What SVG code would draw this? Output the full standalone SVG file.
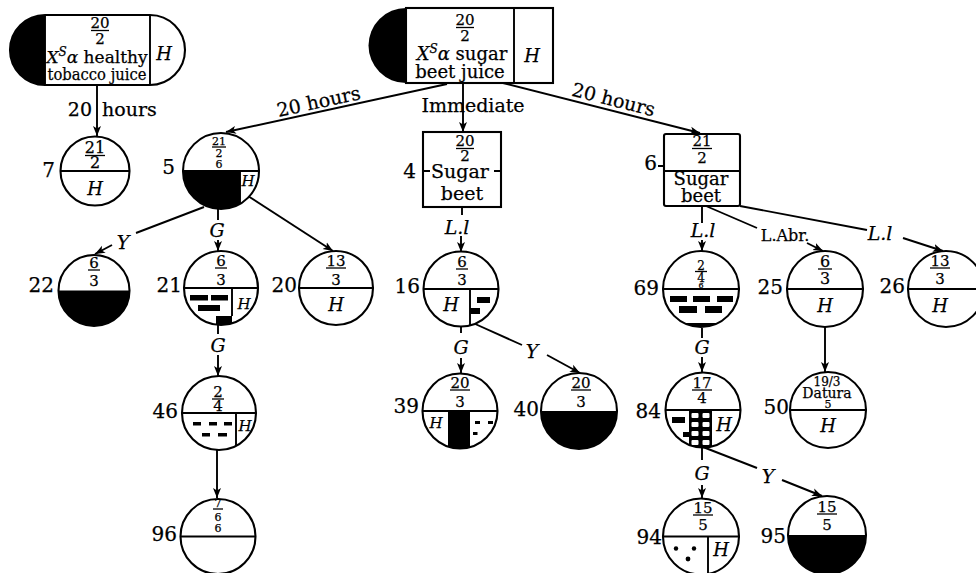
<svg xmlns="http://www.w3.org/2000/svg" width="976" height="573" viewBox="0 0 976 573">
<style>
  text{font-family:'DejaVu Serif','Liberation Serif',serif;fill:#000;stroke:#000;stroke-width:0.25}
  .m{text-anchor:middle}
  .i{font-style:italic}
  .f{font-size:15px}
  .sm{font-size:11px}
  .num{font-size:20px;text-anchor:end}
  .h{font-size:18px;font-style:italic;text-anchor:middle}
  .hs{font-size:15px;font-style:italic;text-anchor:middle}
  .el{font-size:19px}
  .o{fill:#fff;stroke:#000;stroke-width:2.1}
  .ln{fill:none;stroke:#000;stroke-width:1.9}
  .bar{stroke:#000;stroke-width:1.3}
  .k{fill:#000}
  .con{fill:none;stroke:#000;stroke-width:1.9}
  .arr{marker-end:url(#ah)}
</style>
<defs>
  <marker id="ah" markerUnits="userSpaceOnUse" markerWidth="11" markerHeight="9" refX="10" refY="4.5" orient="auto">
    <path d="M0,0.5 L10,4.5 L0,8.5 L2.5,4.5 Z" fill="#000"/>
  </marker>
  <clipPath id="c21"><circle cx="221" cy="288" r="37"/></clipPath>
  <clipPath id="c39"><circle cx="460" cy="411" r="37.5"/></clipPath>
  <clipPath id="c69"><circle cx="701" cy="289" r="38"/></clipPath>
  <clipPath id="c84"><circle cx="703" cy="410" r="37.5"/></clipPath>
  <clipPath id="c94"><circle cx="701" cy="536.5" r="38"/></clipPath>
</defs>

<!-- connectors -->
<g id="connectors">
  <path class="con arr" d="M97,85 V136"/>
  <text class="el"><tspan x="92" y="116" text-anchor="end">20</tspan><tspan x="102" y="116">hours</tspan></text>

  <path class="con arr" d="M447,84 L226,132"/>
  <text class="el m" transform="translate(320,108) rotate(-12.25)">20 hours</text>
  <path class="con arr" d="M463,83 V132"/>
  <text class="el m" x="473" y="112">Immediate</text>
  <path class="con arr" d="M503,83 L700,133"/>
  <text class="el m" transform="translate(612,106) rotate(14.2)">20 hours</text>

  <path class="con" d="M204,207 L136,233"/>
  <text class="el m i" x="123" y="249">Y</text>
  <path class="con arr" d="M112,245 L95,254"/>

  <path class="con" d="M218,209 V220"/>
  <text class="el m i" x="217" y="237">G</text>
  <path class="con arr" d="M218,240 V251"/>

  <path class="con arr" d="M248,196 L333,251"/>

  <path class="con" d="M218,325 V334"/>
  <text class="el m i" x="218" y="352">G</text>
  <path class="con arr" d="M218,355 V376"/>

  <path class="con arr" d="M217,450 V498"/>

  <path class="con" d="M462,207 V215"/>
  <text class="el m i" x="457" y="234">L.l</text>
  <path class="con arr" d="M461,236 V252"/>

  <path class="con" d="M461,326 V333"/>
  <text class="el m i" x="461" y="354">G</text>
  <path class="con arr" d="M461,358 V373"/>

  <path class="con" d="M473,323 L522,345"/>
  <text class="el m i" x="532" y="358">Y</text>
  <path class="con arr" d="M547,355 L580,373"/>

  <path class="con" d="M702,206 V223"/>
  <text class="el m i" x="703" y="237">L.l</text>
  <path class="con arr" d="M702,240 V251"/>

  <path class="con" d="M706,206 L757,228"/>
  <text class="m" font-size="16" x="785" y="241">L.Abr.</text>
  <path class="con arr" d="M807,243 L823,251"/>

  <path class="con" d="M740,206 L867,230"/>
  <text class="el m i" x="880" y="240">L.l</text>
  <path class="con arr" d="M903,238 L943,251"/>

  <path class="con arr" d="M825,327 V372"/>

  <path class="con" d="M702,328 V338"/>
  <text class="el m i" x="702" y="354">G</text>
  <path class="con arr" d="M702,357 V372"/>

  <path class="con" d="M702,447 V460"/>
  <text class="el m i" x="702" y="480">G</text>
  <path class="con arr" d="M702,485 V498"/>

  <path class="con" d="M703,447 L757,468"/>
  <text class="el m i" x="768" y="483">Y</text>
  <path class="con arr" d="M782,480 L822,496"/>
</g>

<!-- source plants -->
<g id="juice-tobacco">
  <path class="o" d="M45,15 H150 A35,35 0 0 1 150,85 H45 A35,35 0 0 1 45,15 Z"/>
  <path class="k" d="M45,15 A35,35 0 0 0 45,85 Z"/>
  <path class="ln" d="M45,15 V85 M150,15 V85"/>
  <line class="bar" x1="91" y1="30.5" x2="109" y2="30.5"/>
  <text class="m f"><tspan x="100" y="28">20</tspan><tspan x="100" y="44">2</tspan></text>
  <text class="m" font-size="17"><tspan x="97" y="63"><tspan class="i">X</tspan><tspan class="i" font-size="12" dy="-7">S</tspan><tspan class="i" dy="7">α</tspan> healthy</tspan><tspan x="97" y="80" textLength="99" lengthAdjust="spacingAndGlyphs">tobacco juice</tspan></text>
  <text class="h" x="164" y="60">H</text>
</g>

<g id="juice-beet">
  <path class="k" d="M406,8 A37.5,37.5 0 0 0 406,83 Z"/>
  <rect class="o" x="406" y="8" width="147" height="75"/>
  <line class="ln" x1="514" y1="8" x2="514" y2="83"/>
  <line class="bar" x1="456" y1="27.5" x2="474" y2="27.5"/>
  <text class="m f"><tspan x="465" y="25">20</tspan><tspan x="465" y="41">2</tspan></text>
  <text class="m" font-size="18"><tspan x="462" y="60"><tspan class="i">X</tspan><tspan class="i" font-size="12" dy="-7">S</tspan><tspan class="i" dy="7">α</tspan> sugar</tspan><tspan x="460" y="78">beet juice</tspan></text>
  <text class="h" x="532" y="62">H</text>
</g>

<g id="n4">
  <rect class="o" x="423" y="132" width="78" height="75"/>
  <path class="ln" d="M423,171 h7 M494,171 h7"/>
  <line class="bar" x1="456" y1="148.5" x2="474" y2="148.5"/>
  <text class="m f"><tspan x="465" y="146">20</tspan><tspan x="465" y="161">2</tspan></text>
  <text class="m" font-size="19"><tspan x="460" y="178">Sugar</tspan><tspan x="462" y="200">beet</tspan></text>
  <text class="num" x="416" y="178">4</text>
</g>

<g id="n6">
  <rect class="o" x="664" y="134" width="76" height="72" rx="2"/>
  <path class="ln" d="M664,171 H740 M658,166 h6"/>
  <line class="bar" x1="692" y1="148.5" x2="712" y2="148.5"/>
  <text class="m f"><tspan x="702" y="146">21</tspan><tspan x="702" y="163">2</tspan></text>
  <text class="m" font-size="18"><tspan x="701" y="185">Sugar</tspan><tspan x="701" y="202">beet</tspan></text>
  <text class="num" x="657" y="170">6</text>
</g>

<!-- plants -->
<g id="n7">
  <circle class="o" cx="95" cy="171" r="34.5"/>
  <path class="ln" d="M60.5,171 H129.5"/>
  <line class="bar" x1="85" y1="155.5" x2="105" y2="155.5"/>
  <text class="m" font-size="16"><tspan x="95" y="153">21</tspan><tspan x="95" y="168">2</tspan></text>
  <text class="h" x="95" y="195">H</text>
  <text class="num" x="55" y="177">7</text>
</g>

<g id="n5">
  <circle class="o" cx="221" cy="171" r="38"/>
  <path class="k" d="M183,171 A38,38 0 0 0 240,203.9 V171 Z"/>
  <path class="ln" d="M183,171 H259 M240,171 V203.9"/>
  <line class="bar" x1="212" y1="147" x2="226" y2="147"/>
  <text class="m sm"><tspan x="219" y="145">21</tspan><tspan x="219" y="157">2</tspan><tspan x="219" y="168">6</tspan></text>
  <text class="hs" x="248" y="186">H</text>
  <text class="num" x="175" y="174">5</text>
</g>

<g id="n22">
  <circle class="o" cx="94" cy="290.5" r="35.5"/>
  <path class="k" d="M58.5,290.5 A35.5,35.5 0 0 0 129.5,290.5 Z"/>
  <line class="bar" x1="88" y1="270" x2="100" y2="270"/>
  <text class="m f"><tspan x="94" y="268">6</tspan><tspan x="94" y="286">3</tspan></text>
  <text class="num" x="54" y="292">22</text>
</g>

<g id="n21">
  <circle class="o" cx="221" cy="288" r="37"/>
  <path class="ln" d="M184,288 H258 M232,288 V316"/>
  <g class="k">
    <rect x="190" y="295" width="18" height="5.5"/>
    <rect x="211" y="295" width="17" height="5.5"/>
    <rect x="198" y="305" width="22" height="6"/>
    <rect x="216" y="316" width="16" height="12" clip-path="url(#c21)"/>
  </g>
  <line class="bar" x1="215" y1="268" x2="227" y2="268"/>
  <text class="m f"><tspan x="221" y="266">6</tspan><tspan x="221" y="285">3</tspan></text>
  <text class="hs" x="244" y="309" font-size="16">H</text>
  <text class="num" x="182" y="292">21</text>
</g>

<g id="n20">
  <circle class="o" cx="336" cy="288" r="37"/>
  <path class="ln" d="M299,288 H373"/>
  <line class="bar" x1="326" y1="268" x2="346" y2="268"/>
  <text class="m f"><tspan x="336" y="266">13</tspan><tspan x="336" y="285">3</tspan></text>
  <text class="h" x="336" y="311">H</text>
  <text class="num" x="297" y="292">20</text>
</g>

<g id="n46">
  <circle class="o" cx="219" cy="413" r="37"/>
  <path class="ln" d="M182,413 H256 M236,413 V446"/>
  <g class="k">
    <rect x="193" y="422" width="8" height="3.5"/>
    <rect x="209" y="422" width="8" height="3.5"/>
    <rect x="224" y="422" width="8" height="3.5"/>
    <rect x="202" y="433" width="8" height="3.5"/>
    <rect x="218" y="433" width="9" height="3.5"/>
  </g>
  <line class="bar" x1="212" y1="399" x2="224" y2="399"/>
  <text class="m f"><tspan x="218" y="397">2</tspan><tspan x="218" y="411">4</tspan></text>
  <text class="hs" x="245" y="431" font-size="16">H</text>
  <text class="num" x="178" y="418">46</text>
</g>

<g id="n96">
  <circle class="o" cx="218" cy="536.5" r="37.5"/>
  <path class="ln" d="M180.5,536.5 H255.5"/>
  <line class="bar" x1="213" y1="509" x2="223" y2="509"/>
  <text class="m sm"><tspan x="218" y="507">7</tspan><tspan x="218" y="521">6</tspan><tspan x="218" y="532">6</tspan></text>
  <text class="num" x="177" y="541">96</text>
</g>

<g id="n16">
  <circle class="o" cx="461" cy="289" r="37.5"/>
  <path class="ln" d="M423.5,289 H498.5 M470,289 V325.4"/>
  <g class="k">
    <rect x="477" y="297" width="13" height="6"/>
    <rect x="470" y="308" width="10" height="6"/>
  </g>
  <line class="bar" x1="456" y1="269" x2="468" y2="269"/>
  <text class="m f"><tspan x="462" y="267">6</tspan><tspan x="462" y="285">3</tspan></text>
  <text class="h" x="451" y="311">H</text>
  <text class="num" x="420" y="293">16</text>
</g>

<g id="n39">
  <circle class="o" cx="460" cy="411" r="37.5"/>
  <rect class="k" x="448" y="411" width="22" height="40" clip-path="url(#c39)"/>
  <path class="ln" d="M422.5,411 H497.5"/>
  <g class="k">
    <rect x="475" y="421" width="5" height="3"/>
    <rect x="488" y="421" width="5" height="3"/>
    <rect x="473" y="432" width="4.5" height="3"/>
  </g>
  <line class="bar" x1="450" y1="390" x2="470" y2="390"/>
  <text class="m f"><tspan x="460" y="388">20</tspan><tspan x="460" y="407">3</tspan></text>
  <text class="hs" x="436" y="428" font-size="16">H</text>
  <text class="num" x="419" y="413">39</text>
</g>

<g id="n40">
  <circle class="o" cx="579" cy="411" r="38"/>
  <path class="k" d="M541,411 A38,38 0 0 0 617,411 Z"/>
  <line class="bar" x1="571" y1="390" x2="591" y2="390"/>
  <text class="m f"><tspan x="581" y="388">20</tspan><tspan x="581" y="407">3</tspan></text>
  <text class="num" x="539" y="416">40</text>
</g>

<g id="n69">
  <circle class="o" cx="701" cy="289" r="38"/>
  <path class="ln" d="M663,289 H739"/>
  <g class="k">
    <rect x="670" y="296" width="17" height="6"/>
    <rect x="693" y="296" width="17" height="6"/>
    <rect x="717" y="296" width="16" height="6"/>
    <rect x="679" y="306" width="18" height="7"/>
    <rect x="705" y="306" width="17" height="7"/>
    <rect x="663" y="323" width="76" height="10" clip-path="url(#c69)"/>
  </g>
  <line class="bar" x1="695" y1="271.5" x2="707" y2="271.5"/>
  <text class="m" font-size="12"><tspan x="701" y="270">2</tspan><tspan x="701" y="282">4</tspan><tspan x="701" y="288" font-size="8">6</tspan></text>
  <text class="num" x="659" y="295">69</text>
</g>

<g id="n25">
  <circle class="o" cx="825" cy="289" r="38"/>
  <path class="ln" d="M787,289 H863"/>
  <line class="bar" x1="818" y1="269" x2="832" y2="269"/>
  <text class="m" font-size="16"><tspan x="825" y="267">6</tspan><tspan x="825" y="284">3</tspan></text>
  <text class="h" x="825" y="312">H</text>
  <text class="num" x="783" y="294">25</text>
</g>

<g id="n26">
  <circle class="o" cx="946" cy="289" r="38"/>
  <path class="ln" d="M908,289 H984"/>
  <line class="bar" x1="930" y1="268" x2="950" y2="268"/>
  <text class="m f"><tspan x="940" y="266">13</tspan><tspan x="940" y="284">3</tspan></text>
  <text class="h" x="940" y="312">H</text>
  <text class="num" x="905" y="293">26</text>
</g>

<g id="n50">
  <circle class="o" cx="828" cy="410" r="38"/>
  <path class="ln" d="M790,410 H866"/>
  <text class="m" font-size="12"><tspan x="827" y="386">19/3</tspan><tspan x="827" y="398" font-size="14">Datura</tspan><tspan x="828" y="408" font-size="11">5</tspan></text>
  <text class="h" x="828" y="432">H</text>
  <text class="num" x="789" y="414">50</text>
</g>

<g id="n84">
  <circle class="o" cx="703" cy="410" r="37.5"/>
  <g clip-path="url(#c84)">
    <rect class="k" x="689" y="410" width="23" height="40"/>
    <g fill="#fff">
      <rect x="691.5" y="413" width="7" height="5" rx="1"/>
      <rect x="702.5" y="413" width="7" height="5" rx="1"/>
      <rect x="691.5" y="422" width="7" height="5" rx="1"/>
      <rect x="702.5" y="422" width="7" height="5" rx="1"/>
      <rect x="691.5" y="431" width="7" height="5" rx="1"/>
      <rect x="702.5" y="431" width="7" height="5" rx="1"/>
      <rect x="691.5" y="440" width="7" height="5" rx="1"/>
      <rect x="702.5" y="440" width="7" height="5" rx="1"/>
    </g>
  </g>
  <path class="ln" d="M665.5,410 H740.5"/>
  <g class="k">
    <rect x="672" y="417" width="13" height="6"/>
    <rect x="683" y="432" width="6" height="5"/>
  </g>
  <line class="bar" x1="692" y1="390" x2="712" y2="390"/>
  <text class="m f"><tspan x="702" y="388">17</tspan><tspan x="702" y="403">4</tspan></text>
  <text class="h" x="724" y="431" font-size="17">H</text>
  <text class="num" x="661" y="418">84</text>
</g>

<g id="n94">
  <circle class="o" cx="701" cy="536.5" r="38"/>
  <path class="ln" d="M663,536.5 H739"/>
  <line class="ln" x1="708" y1="536.5" x2="708" y2="575" clip-path="url(#c94)"/>
  <g class="k">
    <circle cx="676" cy="548.5" r="2.2"/>
    <circle cx="694" cy="548.5" r="2.2"/>
    <circle cx="688" cy="559" r="2.4"/>
  </g>
  <line class="bar" x1="693" y1="515" x2="713" y2="515"/>
  <text class="m f"><tspan x="703" y="513">15</tspan><tspan x="703" y="530">5</tspan></text>
  <text class="h" x="721" y="556" font-size="17">H</text>
  <text class="num" x="662" y="544">94</text>
</g>

<g id="n95">
  <circle class="o" cx="827" cy="535" r="39"/>
  <path class="k" d="M788,535 A39,39 0 0 0 866,535 Z"/>
  <line class="bar" x1="817" y1="514" x2="837" y2="514"/>
  <text class="m f"><tspan x="827" y="512">15</tspan><tspan x="827" y="530">5</tspan></text>
  <text class="num" x="786" y="543">95</text>
</g>
</svg>
